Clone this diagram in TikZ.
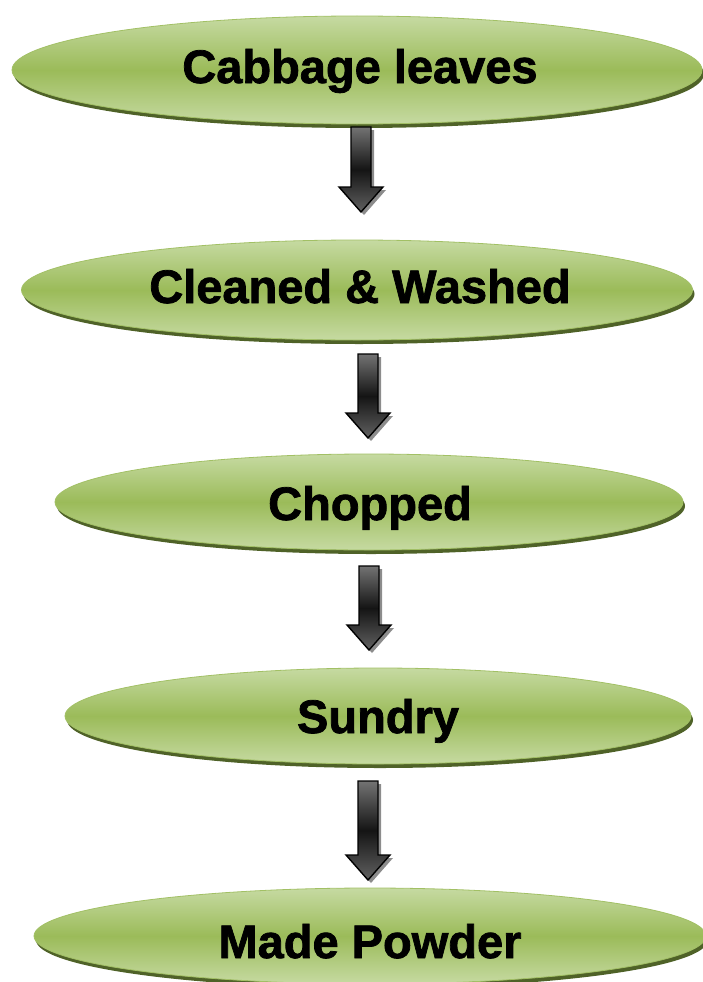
\documentclass[tikz,border=0pt]{standalone}
\usepackage{fontspec}
\setmainfont{Liberation Sans}
\newfontfamily\lblfont[BoldFeatures={FakeBold=1.6}]{Liberation Sans}
\usetikzlibrary{shapes.geometric,shadows,calc}
\definecolor{gmid}{HTML}{9BBB59}
\definecolor{glight}{HTML}{C6DAA2}
\definecolor{gline}{HTML}{A2C065}
\definecolor{gshadow}{HTML}{4F6228}
\tikzset{
  stage/.style={ellipse, inner sep=0pt, draw=gline, line width=0.8pt,
    top color=glight, bottom color=glight, middle color=gmid,
    drop shadow={shadow xshift=2pt, shadow yshift=-4pt, fill=gshadow, opacity=1}},
  lbl/.style={font=\lblfont\fontsize{47}{47}\selectfont\bfseries, text=black,
    inner sep=0pt, text height=34pt, text depth=0pt},
  arrowbox/.style={draw=black, line width=1.4pt, line join=miter,
    top color=black!55, bottom color=black!62, middle color=black!92,
    drop shadow={shadow xshift=3pt, shadow yshift=-3pt, fill=black!45, opacity=1}}
}
\newcommand\blockarrow[2]{%
  \path[arrowbox] let \p1=(#1), \p2=(#2) in
    (\x1-10pt,\y1) -- (\x1+10pt,\y1) -- (\x1+10pt,\y2+25pt)
    -- (\x1+22pt,\y2+25pt) -- (\x1,\y2) -- (\x1-22pt,\y2+25pt)
    -- (\x1-10pt,\y2+25pt) -- cycle;}
\begin{document}
\begin{tikzpicture}[x=1pt,y=-1pt]
\useasboundingbox (0,0) rectangle (702,982);
% stages
\node[stage, minimum width=690pt, minimum height=108pt] (e1) at (357,70) {};
\node[stage, minimum width=671pt, minimum height=100pt] (e2) at (357,290) {};
\node[stage, minimum width=628pt, minimum height=96pt] (e3) at (369,502) {};
\node[stage, minimum width=626pt, minimum height=96pt] (e4) at (378,716) {};
\node[stage, minimum width=672pt, minimum height=96pt] (e5) at (370,936) {};
% labels
\node[lbl] (t1) at (360,66) {Cabbage leaves};
\node[lbl] (t2) at (360,286) {Cleaned \& Washed};
\node[lbl] (t3) at (370,503) {Chopped};
\node[lbl] (t4) at (378,716) {Sundry};
\node[lbl] (t5) at (370,941) {Made Powder};
% arrow ends
\coordinate (a1s) at (361,127); \coordinate (a1e) at (361,212);
\coordinate (a2s) at (368,354); \coordinate (a2e) at (368,438);
\coordinate (a3s) at (369,566); \coordinate (a3e) at (369,650);
\coordinate (a4s) at (368,781); \coordinate (a4e) at (368,880);
\blockarrow{a1s}{a1e}
\blockarrow{a2s}{a2e}
\blockarrow{a3s}{a3e}
\blockarrow{a4s}{a4e}
\end{tikzpicture}
\end{document}
